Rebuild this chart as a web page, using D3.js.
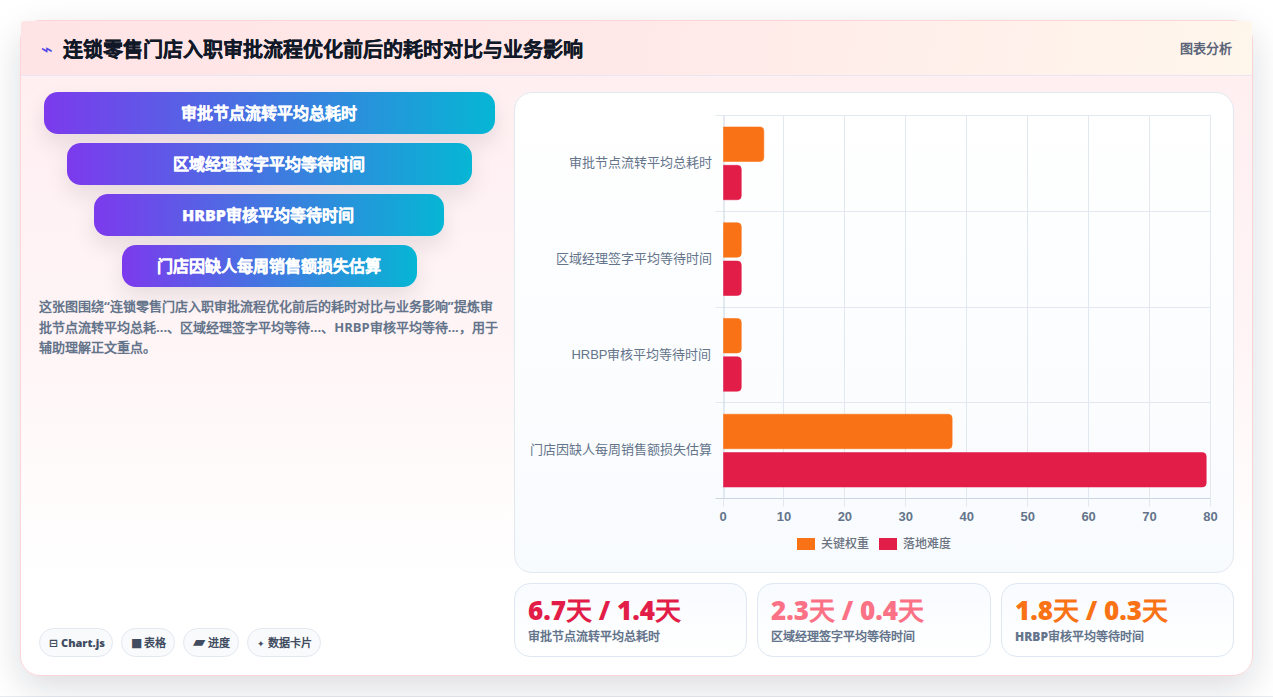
<!DOCTYPE html>
<html lang="zh-CN">
<head>
<meta charset="utf-8">
<title>连锁零售门店入职审批流程优化前后的耗时对比与业务影响</title>
<script src="https://cdn.jsdelivr.net/npm/d3@7/dist/d3.min.js"></script>
<style>
  @font-face { font-family: "CJK Face"; src: local("Noto Sans CJK SC"), local("Noto Sans CJK SC Regular"); font-weight: 400; }
  html, body { margin: 0; padding: 0; width: 1273px; height: 697px; overflow: hidden; background: #fff; }
  body { font-family: "Open Sans", "CJK Face", "Noto Sans CJK SC", sans-serif; position: relative; }
  .abs { position: absolute; box-sizing: border-box; }
  #floor { left: 0; top: 696px; width: 1273px; height: 1px; background: #e9ecf1; }
  #card { left: 20px; top: 20px; width: 1233px; height: 656px; border: 1px solid #fbd5d8; border-radius: 20px;
          background: linear-gradient(180deg, #ffeef0 0%, #fff5f6 50%, #ffffff 85%);
          box-shadow: 0 12px 36px rgba(15, 23, 42, .15); }
  #head { left: 21px; top: 21px; width: 1231px; height: 55px; border-bottom: 1px solid #e8e6f2;
          background: linear-gradient(100deg, #ffe4e6 0%, #ffe8e8 45%, #fff6ec 100%); border-radius: 3px 3px 0 0; }
  #icon { left: 41px; top: 39px; font-size: 20px; line-height: 20px; color: #4f46e5; font-weight: 400; font-family: "DejaVu Sans", sans-serif; }
  #title { left: 62.5px; top: 35px; font-size: 20px; line-height: 30px; font-weight: 800; color: #111827; white-space: nowrap; -webkit-text-stroke: .25px #111827; }
  #tag { left: 1180px; top: 39px; font-size: 13px; line-height: 18px; font-weight: 700; color: #5b6478; white-space: nowrap; }
  .step { height: 42px; border-radius: 14px; background: linear-gradient(90deg, #7c3aed, #06b6d4); padding-right: 2px;
          box-shadow: 0 10px 22px rgba(15, 23, 42, .10); color: #fff; font-weight: 800; font-size: 16px;
          line-height: 42px; text-align: center; white-space: nowrap; -webkit-text-stroke: .25px #fff; }
  #note { left: 39px; top: 296px; width: 462px; font-size: 13px; line-height: 20.5px; font-weight: 700; color: #64748b; }
  .pill { top: 628px; height: 29px; border: 1px solid #e2e8f0; border-radius: 15px; background: #f8fafc; padding-left: 9px;
          font-size: 11px; line-height: 27px; font-weight: 800; color: #414c60; white-space: nowrap; }
  .pill .i { display: inline-block; text-align: left; font-family: "DejaVu Sans", sans-serif; font-weight: 700; line-height: 11px; }
  #panel { left: 514px; top: 92px; width: 720px; height: 481px; border: 1px solid #e2e8f0; border-radius: 18px;
           background: linear-gradient(180deg, #ffffff 0%, #f8fbfe 100%); }
  #plot { left: 0; top: 0; }
  .kpi { top: 583px; height: 74px; border: 1px solid #dde8f3; border-radius: 16px;
         background: linear-gradient(180deg, #f8fbff 0%, #ffffff 100%); }
  .kpi .v { position: absolute; left: 13px; top: 8px; font-size: 26px; line-height: 36px; font-weight: 800; white-space: nowrap; }
  .kpi .l { position: absolute; left: 13px; top: 44px; font-size: 12px; line-height: 18px; font-weight: 800; color: #64748b; white-space: nowrap; }
</style>
</head>
<body>
<script>
// Chart content
const pageTitle = "连锁零售门店入职审批流程优化前后的耗时对比与业务影响";
const headTag = "图表分析";
const categories = ["审批节点流转平均总耗时", "区域经理签字平均等待时间", "HRBP审核平均等待时间", "门店因缺人每周销售额损失估算"];
const seriesNames = ["关键权重", "落地难度"];
const weightValues = [6.7, 3, 3, 37.6];
const difficultyValues = [3, 3, 3, 79.3];
const seriesColors = ["#f97316", "#e11d48"];
const xTicks = [0, 10, 20, 30, 40, 50, 60, 70, 80];
const noteText = "这张图围绕“连锁零售门店入职审批流程优化前后的耗时对比与业务影响”提炼审批节点流转平均总耗...、区域经理签字平均等待...、HRBP审核平均等待...，用于辅助理解正文重点。";
const pillIcons = ["⊟", "■", "▰", "✦"];
const pillLabels = ["Chart.js", "表格", "进度", "数据卡片"];
const kpiValues = ["6.7天 / 1.4天", "2.3天 / 0.4天", "1.8天 / 0.3天"];
const kpiLabels = ["审批节点流转平均总耗时", "区域经理签字平均等待时间", "HRBP审核平均等待时间"];
const kpiColors = ["#e11d48", "#fb7185", "#f97316"];

// Box geometry for the page furniture
const stepBoxes = [[44, 92, 451], [67, 143, 405], [94, 194, 350], [122, 245, 295]];
const pillBoxes = [[39, 74, 12], [121, 54, 13], [183, 56, 15], [247, 74, 11]];
const pillIconSizes = [11, 12, 16, 9];
const kpiBoxes = [[514, 233], [757, 234], [1001, 233]];

const body = d3.select("body");
const box = (cls, id) => { const e = body.append("div").attr("class", "abs " + cls); if (id) e.attr("id", id); return e; };

box("", "floor");
box("", "card");
box("", "head");
box("", "icon").text("⌁");
box("", "title").text(pageTitle);
box("", "tag").text(headTag);

categories.forEach((c, i) => {
  box("step").style("left", stepBoxes[i][0] + "px").style("top", stepBoxes[i][1] + "px")
    .style("width", stepBoxes[i][2] + "px").text(c);
});
box("", "note").text(noteText);
pillLabels.forEach((p, i) => {
  const pill = box("pill").style("left", pillBoxes[i][0] + "px").style("width", pillBoxes[i][1] + "px");
  pill.append("span").attr("class", "i").style("width", pillBoxes[i][2] + "px")
    .style("font-size", pillIconSizes[i] + "px").text(pillIcons[i]);
  pill.append("span").text(p);
});
box("", "panel");
kpiValues.forEach((v, i) => {
  const k = box("kpi").style("left", kpiBoxes[i][0] + "px").style("width", kpiBoxes[i][1] + "px");
  k.append("div").attr("class", "v").style("color", kpiColors[i]).text(v);
  k.append("div").attr("class", "l").text(kpiLabels[i]);
});

// Grouped horizontal bars
const svg = body.append("svg").attr("class", "abs").attr("id", "plot").attr("width", 1273).attr("height", 697);
const x = d3.scaleLinear().domain([0, 80]).range([723, 1210.5]);
const y = d3.scaleBand().domain(categories).range([115.5, 498.5]);
const group = d3.scaleBand().domain(seriesNames)
  .range([y.bandwidth() * 0.1, y.bandwidth() * 0.9]).paddingInner(0.1).paddingOuter(0.05);
const gridColor = "#e2e8f0";
const crisp = v => Math.floor(v) + .5;

svg.append("g").selectAll("line").data(xTicks.slice(1)).join("line")
  .attr("x1", d => crisp(x(d))).attr("x2", d => crisp(x(d))).attr("y1", y.range()[0]).attr("y2", y.range()[1])
  .attr("stroke", gridColor);
svg.append("g").selectAll("line").data(d3.range(categories.length + 1)).join("line")
  .attr("x1", 715.5).attr("x2", x.range()[1])
  .attr("y1", d => crisp(y.range()[0] + d * y.step())).attr("y2", d => crisp(y.range()[0] + d * y.step()))
  .attr("stroke", d => d === categories.length ? "#cbd5e1" : gridColor);

const xAxis = d3.axisBottom(x).tickValues(xTicks).tickSize(8).tickPadding(5).offset(0);
const xg = svg.append("g").attr("transform", `translate(0,${y.range()[1]})`).call(xAxis);
xg.select(".domain").remove();
xg.selectAll("line").attr("stroke", gridColor).attr("transform", d => `translate(${crisp(x(d)) - x(d)},0)`);
xg.selectAll("text").attr("fill", "#64748b").attr("dy", "0.7em").style("font", "700 13px 'Liberation Sans', sans-serif");

const yAxis = d3.axisLeft(y).tickSize(0).tickPadding(12);
const yg = svg.append("g").attr("transform", `translate(${x(0) + .5},0)`).call(yAxis);
yg.select(".domain").attr("stroke", "#cbd5e1");
yg.selectAll("text").attr("fill", "#64748b").attr("dy", "0.28em")
  .style("font", "400 13px 'Liberation Sans', 'CJK Face', 'Noto Sans CJK SC', sans-serif");

const barPath = (x0, x1, top, h, r) =>
  `M${x0},${top}H${x1 - r}Q${x1},${top} ${x1},${top + r}V${top + h - r}Q${x1},${top + h} ${x1 - r},${top + h}H${x0}Z`;

[weightValues, difficultyValues].forEach((vals, s) => {
  svg.append("g").selectAll("path").data(vals).join("path")
    .attr("d", (d, i) => barPath(x(0) + .5, x(d), y(categories[i]) + group(seriesNames[s]), group.bandwidth(), 4))
    .attr("fill", seriesColors[s]).attr("stroke", seriesColors[s]).attr("stroke-opacity", .55);
});

// Legend under the plot
const legendX = [797, 879];
const legend = svg.append("g").selectAll("g").data(seriesNames).join("g")
  .attr("transform", (d, i) => `translate(${legendX[i]},538)`);
legend.append("rect").attr("width", 18).attr("height", 12).attr("fill", (d, i) => seriesColors[i]);
legend.append("text").attr("x", 24).attr("y", 10).text(d => d)
  .attr("fill", "#6b7280").style("font", "500 12px 'Noto Sans CJK SC', sans-serif");
</script>
</body>
</html>
